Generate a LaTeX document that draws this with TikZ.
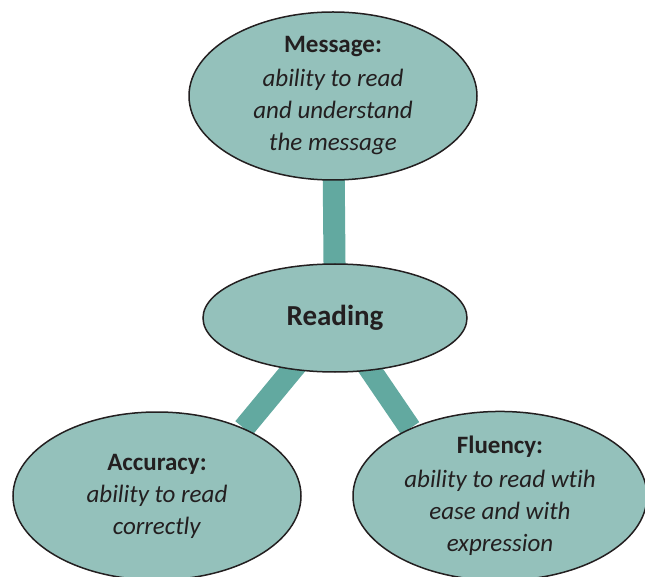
\documentclass[tikz,border=0pt]{standalone}
\usepackage{fontspec}
\setmainfont[Ligatures=NoCommon]{Carlito}
\usetikzlibrary{shapes.geometric,backgrounds}
\definecolor{bubble}{HTML}{94C1BB}
\definecolor{link}{HTML}{62A9A0}
\definecolor{ink}{HTML}{231F20}
\tikzset{
  bubblebox/.style={ellipse, draw=ink, line width=1.5pt, fill=bubble, inner sep=0pt,
    text=ink, align=center, font=\fontsize{25}{32}\selectfont},
  linkline/.style={draw=link, line width=22pt}
}
\begin{document}
\begin{tikzpicture}[x=1pt,y=-1pt]
\useasboundingbox (0,0) rectangle (645,577);
\node[bubblebox, minimum width=288pt, minimum height=168pt] (message) at (333,96)
  {\raisebox{2pt}{\textbf{Message:}}\\\textit{ability to read}\\\textit{and understand}\\\textit{the message}};
\node[bubblebox, minimum width=264pt, minimum height=108pt, font=\fontsize{29}{32}\selectfont\bfseries] (reading) at (335,318) {\raisebox{4pt}{Reading}};
\node[bubblebox, minimum width=288pt, minimum height=168pt] (accuracy) at (157,496)
  {\textbf{Accuracy:}\\\textit{ability to read}\\\textit{correctly}};
\node[bubblebox, minimum width=294pt, minimum height=168pt] (fluency) at (500,496)
  {\raisebox{2pt}{\textbf{Fluency:}}\\\textit{ability to read wtih}\\\textit{ease and with}\\\textit{expression}};
\begin{scope}[on background layer]
  \draw[linkline] (message.center) -- (reading.center);
  \draw[linkline] (reading.center) -- (accuracy.38);
  \draw[linkline] (reading.center) -- (fluency.143);
\end{scope}
\end{tikzpicture}
\end{document}
